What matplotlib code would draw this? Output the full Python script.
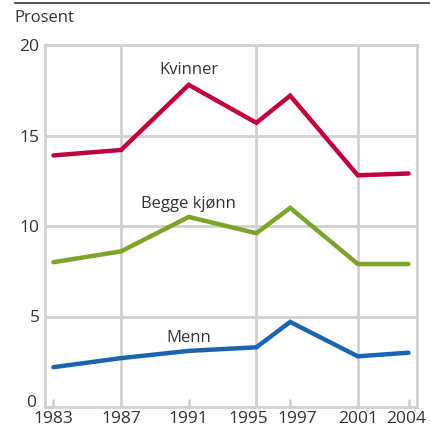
import matplotlib.pyplot as plt
from matplotlib.lines import Line2D
from matplotlib.transforms import ScaledTranslation

years = [1983, 1987, 1991, 1995, 1997, 2001, 2004]
kvinner = [13.9, 14.2, 17.8, 15.7, 17.2, 12.8, 12.9]
begge = [8.0, 8.6, 10.5, 9.6, 11.0, 7.9, 7.9]
menn = [2.2, 2.7, 3.1, 3.3, 4.7, 2.8, 3.0]

plt.rcParams['font.family'] = ['Open Sans', 'DejaVu Sans']
grid_c = '#d0d0d0'
txt_c = '#333333'

fig = plt.figure(figsize=(4.30, 4.29), dpi=100)
ax = fig.add_axes([45 / 430, 1 - 407 / 429, 372 / 430, 362 / 429])

# grid
for y in [5, 10, 15, 20]:
    ax.axhline(y, color=grid_c, lw=2, zorder=0)
for x in [1987, 1995, 2001]:
    ax.axvline(x, color=grid_c, lw=2, zorder=0)

ax.plot(years, kvinner, color='#c0003c', lw=3.2, solid_capstyle='round', solid_joinstyle='miter')
ax.plot(years, begge, color='#7ba428', lw=3.2, solid_capstyle='round', solid_joinstyle='miter')
ax.plot(years, menn, color='#1a64b0', lw=3.2, solid_capstyle='round', solid_joinstyle='miter')

ax.text(1991, 18.6, 'Kvinner', ha='center', va='center', fontsize=12, color=txt_c)
ax.text(1991, 11.2, 'Begge kjønn', ha='center', va='center', fontsize=12, color=txt_c)
ax.text(1991, 3.8, 'Menn', ha='center', va='center', fontsize=12, color=txt_c)

ax.set_xlim(1982.5, 2004.5)
ax.set_ylim(0, 20)
ax.set_xticks(years)
ax.set_xticklabels([str(y) for y in years])
ax.set_yticks([0, 5, 10, 15, 20])
ax.tick_params(axis='x', direction='in', length=6, width=2, color=grid_c,
               labelsize=12.5, labelcolor=txt_c, pad=3)
ax.tick_params(axis='y', length=0, labelsize=12.5, labelcolor=txt_c, pad=4)
for s in ax.spines.values():
    s.set_color(grid_c)
    s.set_linewidth(2)

# nudge crowded labels apart
shifts = {'1995': -8, '1997': 7, '2004': -2}
for lab in ax.get_xticklabels():
    dx = shifts.get(lab.get_text(), 0)
    if dx:
        lab.set_transform(lab.get_transform() + ScaledTranslation(dx / 100, 0, fig.dpi_scale_trans))
ylabs = ax.get_yticklabels()
ylabs[0].set_transform(ylabs[0].get_transform() + ScaledTranslation(-3 / 100, 6 / 100, fig.dpi_scale_trans))

fig.text(14 / 430, 1 - 18 / 429, 'Prosent', ha='left', va='center', fontsize=12, color=txt_c)
fig.add_artist(Line2D([15 / 430, 1], [1 - 3 / 429, 1 - 3 / 429], color='#333333', lw=1.2,
                      transform=fig.transFigure))

fig.savefig('out.png', dpi=100)
